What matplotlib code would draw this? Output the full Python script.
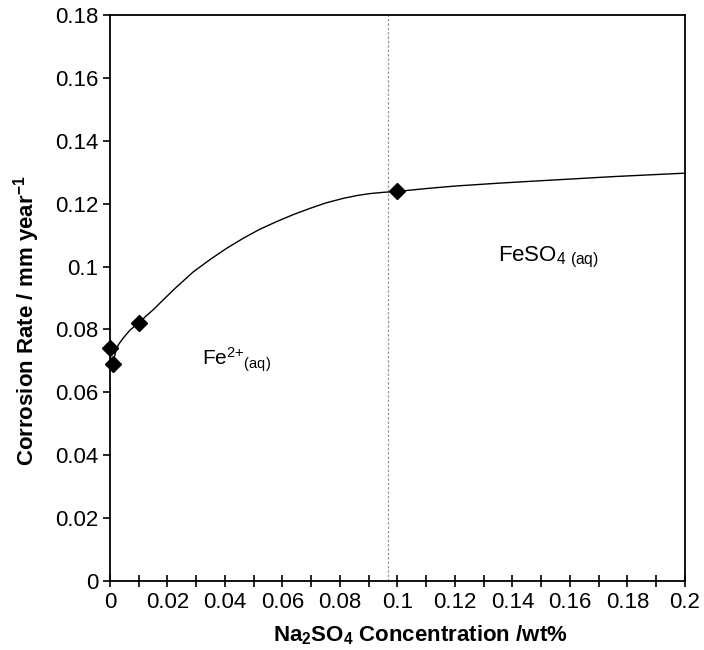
import matplotlib
matplotlib.use("Agg")
import matplotlib.pyplot as plt
from matplotlib.ticker import MultipleLocator

plt.rcParams['font.family'] = ['Liberation Sans', 'DejaVu Sans']
plt.rcParams['mathtext.default'] = 'regular'

# measured points
conc = [0.0, 0.001, 0.01, 0.1]
rate = [0.074, 0.069, 0.082, 0.124]

# fitted curve
fit_x = [0.001, 0.002, 0.003, 0.0046, 0.007, 0.01, 0.0125, 0.015, 0.019, 0.0232,
         0.029, 0.0348, 0.0406, 0.0464, 0.052, 0.058, 0.064, 0.0696, 0.075,
         0.0812, 0.086, 0.0904, 0.095, 0.1, 0.11, 0.12, 0.135, 0.15, 0.175, 0.2]
fit_y = [0.069, 0.0728, 0.0752, 0.0772, 0.0798, 0.082, 0.0842, 0.0862, 0.0898, 0.0935,
         0.0983, 0.1022, 0.1058, 0.109, 0.1118, 0.1143, 0.1166, 0.1185, 0.1202,
         0.1217, 0.1226, 0.1232, 0.1236, 0.1239, 0.1248, 0.1256, 0.1265, 0.1273, 0.1286, 0.1297]

boundary = 0.0966

fig = plt.figure(figsize=(7.04, 6.5), dpi=100)
ax = fig.add_axes([0.156, 0.106, 0.817, 0.871])

ax.plot(fit_x, fit_y, color='black', lw=1.0, zorder=2)
ax.plot(conc, rate, 'D', color='black', markersize=8, zorder=3, clip_on=False)
ax.axvline(boundary, color='#999999', lw=0.9, ls=(0, (2, 1.5)), zorder=1)

ax.text(0.032, 0.0687, 'Fe$^{2{+}}$$_{(aq)}$', fontsize=15)
ax.text(0.135, 0.1015, 'FeSO$_{4\\ (aq)}$', fontsize=16)

ax.set_xlim(0, 0.2)
ax.set_ylim(0, 0.18)
ax.xaxis.set_minor_locator(MultipleLocator(0.01))
ax.set_xticks([0, 0.02, 0.04, 0.06, 0.08, 0.1, 0.12, 0.14, 0.16, 0.18, 0.2])
ax.set_xticklabels(['0', '0.02', '0.04', '0.06', '0.08', '0.1', '0.12', '0.14', '0.16', '0.18', '0.2'])
ax.set_yticks([0, 0.02, 0.04, 0.06, 0.08, 0.1, 0.12, 0.14, 0.16, 0.18])
ax.set_yticklabels(['0', '0.02', '0.04', '0.06', '0.08', '0.1', '0.12', '0.14', '0.16', '0.18'])

ax.tick_params(axis='x', which='both', direction='inout', length=8, width=1.2, labelsize=16, pad=4)
ax.tick_params(axis='y', which='major', direction='out', length=5, width=1.2, labelsize=16)
for s in ax.spines.values():
    s.set_linewidth(1.3)

ax.set_xlabel('Na$_2$SO$_4$ Concentration /wt%', fontsize=16, fontweight='bold')
ax.xaxis.set_label_coords(0.54, -0.075)
ax.set_ylabel('Corrosion Rate / mm year$^{-1}$', fontsize=16, fontweight='bold')
ax.yaxis.set_label_coords(-0.118, 0.46)

fig.savefig('out.png', dpi=100)
